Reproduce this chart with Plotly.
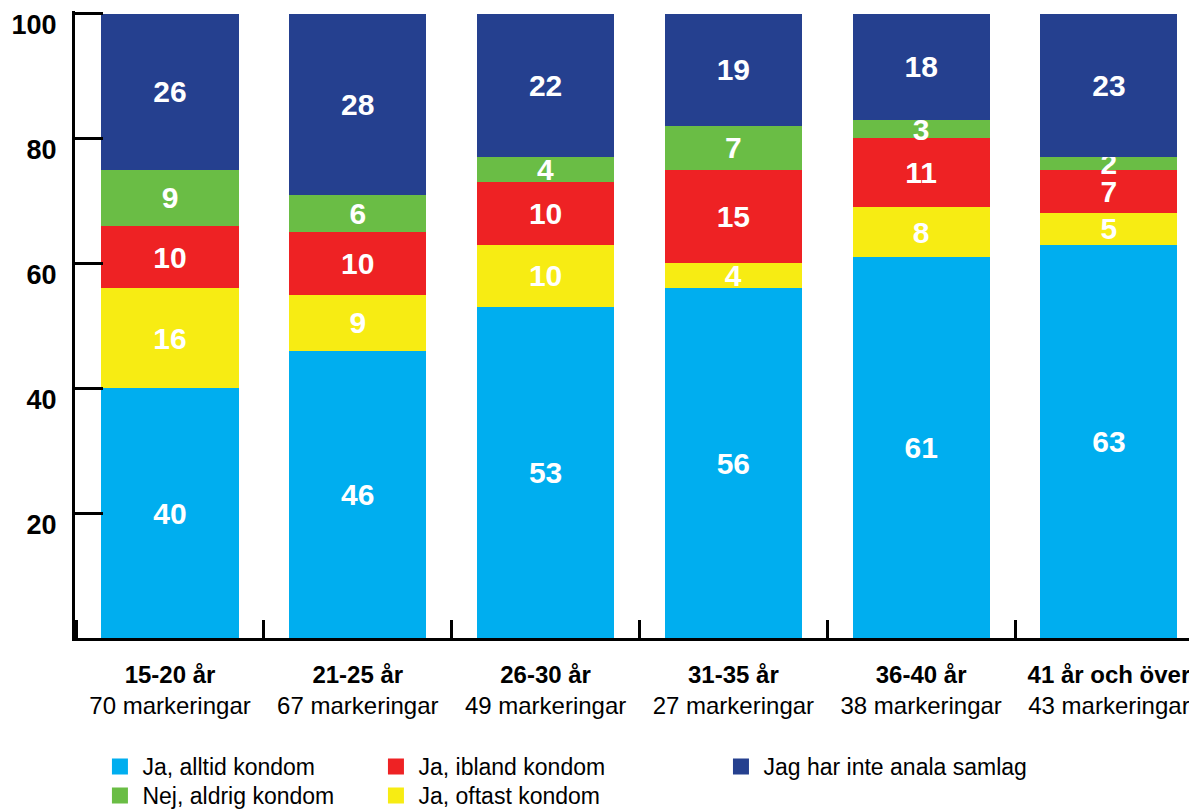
import plotly.graph_objects as go

categories = ["15-20 år", "21-25 år", "26-30 år", "31-35 år", "36-40 år", "41 år och över"]
counts = [70, 67, 49, 27, 38, 43]

alltid = [40, 46, 53, 56, 61, 63]
oftast = [16, 9, 10, 4, 8, 5]
ibland = [10, 10, 10, 15, 11, 7]
aldrig = [9, 6, 4, 7, 3, 2]
inte = [26, 28, 22, 19, 18, 23]

FONT = "Liberation Sans, Arial, Helvetica, sans-serif"
xlabels = [f"<b>{c}</b><br>{n} markeringar" for c, n in zip(categories, counts)]

# top segment fills the bar up to 100 (labels show the reported value)
base = [a + b + c + d for a, b, c, d in zip(alltid, oftast, ibland, aldrig)]
inte_h = [100 - s for s in base]

series = [
    ("Ja, alltid kondom", alltid, alltid, "#00AEEF", "legend"),
    ("Ja, oftast kondom", oftast, oftast, "#F7EC13", "legend4"),
    ("Ja, ibland kondom", ibland, ibland, "#EE2224", "legend3"),
    ("Nej, aldrig kondom", aldrig, aldrig, "#6ABD45", "legend2"),
    ("Jag har inte anala samlag", inte_h, inte, "#25408F", "legend5"),
]

fig = go.Figure()
for name, vals, txt, col, leg in series:
    fig.add_trace(go.Bar(
        x=xlabels, y=vals, name=name, showlegend=False,
        marker=dict(color=col, line=dict(width=0)),
        text=[str(t) for t in txt],
        textposition="inside", insidetextanchor="middle",
        constraintext="none", textangle=0,
        textfont=dict(color="white", size=30, family=FONT, weight="bold"),
        hoverinfo="skip",
    ))
    # legend entry with a bigger square swatch
    fig.add_trace(go.Scatter(
        x=[None], y=[None], mode="markers", name=name,
        marker=dict(symbol="square", size=20, color=col),
        legend=leg, hoverinfo="skip",
    ))

leg_common = dict(
    orientation="v", yanchor="top", xanchor="left",
    font=dict(size=23, family=FONT, color="black"),
    bgcolor="rgba(0,0,0,0)", itemwidth=35,
)
row1, row2 = -0.1707, -0.2169
col1, col2, col3 = 0.020, 0.266, 0.5735
fig.update_layout(
    barmode="stack",
    bargap=0.27,
    width=1189, height=801,
    margin=dict(l=67, r=0, t=3, b=171, autoexpand=False),
    plot_bgcolor="white", paper_bgcolor="white",
    font=dict(family=FONT, color="black"),
    legend=dict(x=col1, y=row1, **leg_common),
    legend2=dict(x=col1, y=row2, **leg_common),
    legend3=dict(x=col2, y=row1, **leg_common),
    legend4=dict(x=col2, y=row2, **leg_common),
    legend5=dict(x=col3, y=row1, **leg_common),
)
fig.update_xaxes(
    range=[-0.506, 5.469], showline=True, linewidth=3, linecolor="black",
    ticks="inside", tickson="boundaries", ticklen=18, tickwidth=3, tickcolor="black",
    tickfont=dict(size=24, family=FONT, color="black"), ticklabelstandoff=13,
    showgrid=False, automargin=False,
)
fig.update_yaxes(
    range=[0, 100.4], tickvals=[20, 40, 60, 80, 100], showline=True, linewidth=3,
    linecolor="black", ticks="inside", ticklen=28, tickwidth=3, tickcolor="black",
    tickfont=dict(size=27, family=FONT, color="black", weight="bold"),
    ticklabelshift=11, ticklabeloverflow="allow",
    ticklabelstandoff=10, showgrid=False, zeroline=False, automargin=False,
)

fig.write_html("out.html")
